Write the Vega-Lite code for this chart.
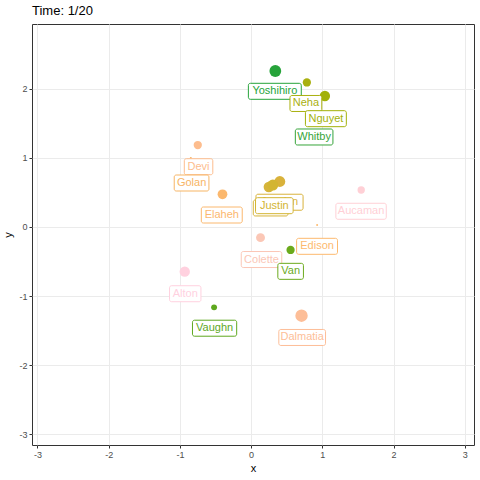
{
  "$schema": "https://vega.github.io/schema/vega-lite/v6.json",
  "autosize": "none",
  "width": 442,
  "height": 421,
  "padding": {"left": 32, "top": 24, "right": 6, "bottom": 35},
  "background": "white",
  "title": {
    "text": "Time: 1/20",
    "anchor": "start",
    "frame": "group",
    "font": "Liberation Sans",
    "fontSize": 13,
    "fontWeight": "normal",
    "color": "black",
    "offset": 6
  },
  "config": {
    "view": {"stroke": "#333333", "strokeWidth": 1},
    "axis": {
      "domain": false,
      "labelFont": "Liberation Sans",
      "labelFontSize": 9,
      "labelColor": "#4D4D4D",
      "tickColor": "#333333",
      "tickSize": 3,
      "labelPadding": 2,
      "gridColor": "#EBEBEB",
      "gridWidth": 1,
      "titleFont": "Liberation Sans",
      "titleFontSize": 11,
      "titleFontWeight": "normal",
      "titleColor": "black"
    }
  },
  "data": {
    "values": [
      {"name": "Yoshihiro", "x": 0.34, "y": 2.256, "lx": 0.333, "ly": 1.962, "value": 139},
      {"name": "Neha", "x": 0.783, "y": 2.09, "lx": 0.769, "ly": 1.786, "value": 68},
      {"name": "Nguyet", "x": 1.036, "y": 1.894, "lx": 1.05, "ly": 1.566, "value": 107},
      {"name": "Whitby", "x": 0.885, "y": 1.605, "lx": 0.885, "ly": 1.301, "value": 0},
      {"name": "Devi", "x": -0.749, "y": 1.185, "lx": -0.738, "ly": 0.871, "value": 68},
      {"name": "Golan", "x": -0.847, "y": 0.997, "lx": -0.836, "ly": 0.635, "value": 4},
      {"name": "Elaheh", "x": -0.402, "y": 0.472, "lx": -0.412, "ly": 0.172, "value": 95},
      {"name": "Jocelyn", "x": 0.403, "y": 0.657, "lx": 0.399, "ly": 0.357, "value": 119},
      {"name": "Jalen", "x": 0.249, "y": 0.577, "lx": 0.274, "ly": 0.274, "value": 110},
      {"name": "Justin", "x": 0.305, "y": 0.606, "lx": 0.326, "ly": 0.307, "value": 119},
      {"name": "Aucaman", "x": 1.546, "y": 0.534, "lx": 1.544, "ly": 0.226, "value": 54},
      {"name": "Edison", "x": 0.927, "y": 0.027, "lx": 0.926, "ly": -0.281, "value": 4},
      {"name": "Colette", "x": 0.132, "y": -0.156, "lx": 0.146, "ly": -0.472, "value": 79},
      {"name": "Van", "x": 0.554, "y": -0.334, "lx": 0.555, "ly": -0.643, "value": 68},
      {"name": "Alton", "x": -0.932, "y": -0.648, "lx": -0.925, "ly": -0.967, "value": 107},
      {"name": "Vaughn", "x": -0.52, "y": -1.164, "lx": -0.513, "ly": -1.466, "value": 35},
      {"name": "Dalmatia", "x": 0.708, "y": -1.285, "lx": 0.717, "ly": -1.6, "value": 154}
    ]
  },
  "layer": [
    {
      "mark": {"type": "circle", "opacity": 1},
      "encoding": {
        "x": {
          "field": "x", "type": "quantitative", "title": "x",
          "scale": {"domain": [-3.077, 3.13], "nice": false, "zero": false},
          "axis": {
            "values": [-3, -2.5, -2, -1.5, -1, -0.5, 0, 0.5, 1, 1.5, 2, 2.5, 3],
            "labelExpr": "datum.value % 1 === 0 ? '' + datum.value : ''",
            "tickOpacity": {"condition": {"test": "datum.value % 1 !== 0", "value": 0}, "value": 1},
            "titlePadding": 3
          }
        },
        "y": {
          "field": "y", "type": "quantitative", "title": "y",
          "scale": {"domain": [-3.156, 2.936], "nice": false, "zero": false},
          "axis": {
            "values": [-3, -2.5, -2, -1.5, -1, -0.5, 0, 0.5, 1, 1.5, 2, 2.5],
            "labelExpr": "datum.value % 1 === 0 ? '' + datum.value : ''",
            "tickOpacity": {"condition": {"test": "datum.value % 1 !== 0", "value": 0}, "value": 1},
            "titlePadding": 5
          }
        },
        "size": {
          "field": "value", "type": "quantitative",
          "scale": {"type": "linear", "domain": [0, 100], "range": [0, 100]},
          "legend": null
        },
        "color": {
          "field": "name", "type": "nominal", "legend": null,
          "scale": {
            "domain": ["Yoshihiro", "Whitby", "Vaughn", "Van", "Neha", "Nguyet", "Justin", "Jocelyn", "Jalen", "Golan", "Elaheh", "Edison", "Devi", "Dalmatia", "Colette", "Aucaman", "Alton"],
            "range": ["#26A33A", "#36A43A", "#5EA81E", "#6BAA1C", "#A9B00F", "#A2B109", "#D3B532", "#D9B23B", "#D6B43A", "#F7B565", "#FBB86E", "#FDBA6F", "#FDBD8E", "#FDBE98", "#FBC7B6", "#FFD0D6", "#FFD1DF"]
          }
        }
      }
    },
    {
      "transform": [{"filter": "datum.name === 'Jocelyn' || datum.name === 'Jalen'"}],
      "mark": {
        "type": "rect", "height": 16, "fill": "white", "fillOpacity": 1, "strokeWidth": 1, "cornerRadius": 2,
        "width": {"expr": "6.2 * length(datum.name) - 3.3 * length(replace(datum.name, regexp('[^iltrjfI]', 'g'), '')) + 7"}
      },
      "encoding": {
        "x": {"field": "lx", "type": "quantitative"},
        "y": {"field": "ly", "type": "quantitative"},
        "stroke": {
          "field": "name", "type": "nominal", "legend": null,
          "scale": {
            "domain": ["Yoshihiro", "Whitby", "Vaughn", "Van", "Neha", "Nguyet", "Justin", "Jocelyn", "Jalen", "Golan", "Elaheh", "Edison", "Devi", "Dalmatia", "Colette", "Aucaman", "Alton"],
            "range": ["#26A33A", "#36A43A", "#5EA81E", "#6BAA1C", "#A9B00F", "#A2B109", "#D3B532", "#D9B23B", "#D6B43A", "#F7B565", "#FBB86E", "#FDBA6F", "#FDBD8E", "#FDBE98", "#FBC7B6", "#FFD0D6", "#FFD1DF"]
          }
        }
      }
    },
    {
      "transform": [{"filter": "datum.name === 'Jocelyn' || datum.name === 'Jalen'"}],
      "mark": {"type": "text", "font": "Liberation Sans", "fontSize": 11, "align": "center", "baseline": "middle"},
      "encoding": {
        "x": {"field": "lx", "type": "quantitative"},
        "y": {"field": "ly", "type": "quantitative"},
        "text": {"field": "name"},
        "color": {"field": "name", "type": "nominal", "legend": null}
      }
    },
    {
      "transform": [{"filter": "datum.name !== 'Jocelyn' && datum.name !== 'Jalen'"}],
      "mark": {
        "type": "rect", "height": 16, "fill": "white", "fillOpacity": 1, "strokeWidth": 1, "cornerRadius": 2,
        "width": {"expr": "6.2 * length(datum.name) - 3.3 * length(replace(datum.name, regexp('[^iltrjfI]', 'g'), '')) + 7"}
      },
      "encoding": {
        "x": {"field": "lx", "type": "quantitative"},
        "y": {"field": "ly", "type": "quantitative"},
        "stroke": {
          "field": "name", "type": "nominal", "legend": null,
          "scale": {
            "domain": ["Yoshihiro", "Whitby", "Vaughn", "Van", "Neha", "Nguyet", "Justin", "Jocelyn", "Jalen", "Golan", "Elaheh", "Edison", "Devi", "Dalmatia", "Colette", "Aucaman", "Alton"],
            "range": ["#26A33A", "#36A43A", "#5EA81E", "#6BAA1C", "#A9B00F", "#A2B109", "#D3B532", "#D9B23B", "#D6B43A", "#F7B565", "#FBB86E", "#FDBA6F", "#FDBD8E", "#FDBE98", "#FBC7B6", "#FFD0D6", "#FFD1DF"]
          }
        }
      }
    },
    {
      "transform": [{"filter": "datum.name !== 'Jocelyn' && datum.name !== 'Jalen'"}],
      "mark": {"type": "text", "font": "Liberation Sans", "fontSize": 11, "align": "center", "baseline": "middle"},
      "encoding": {
        "x": {"field": "lx", "type": "quantitative"},
        "y": {"field": "ly", "type": "quantitative"},
        "text": {"field": "name"},
        "color": {"field": "name", "type": "nominal", "legend": null}
      }
    }
  ]
}
